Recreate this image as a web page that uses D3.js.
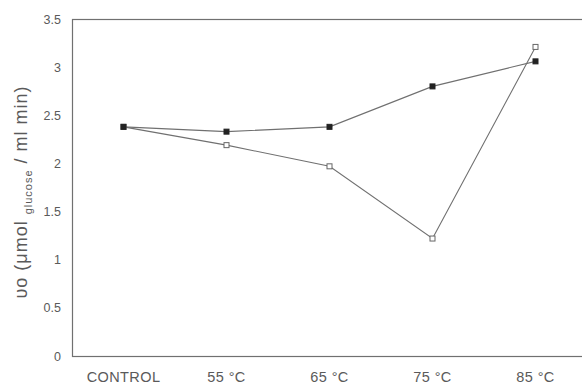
<!DOCTYPE html>
<html>
<head>
<meta charset="utf-8">
<script src="https://cdn.jsdelivr.net/npm/d3@7"></script>
<style>
  html, body { margin: 0; padding: 0; background: #fff; }
  svg { display: block; font-family: "Liberation Sans", Arial, sans-serif; }
</style>
</head>
<body>
<svg id="chart" width="582" height="389"></svg>
<script>
// Treatment groups along the x axis
const categories = ["CONTROL", "55 °C", "65 °C", "75 °C", "85 °C"];
// Initial rate for the two series (filled and open squares)
const filledSeries = [2.38, 2.33, 2.38, 2.80, 3.06];
const openSeries   = [2.38, 2.19, 1.97, 1.22, 3.21];
// Y axis ticks
const yTicks = [0, 0.5, 1, 1.5, 2, 2.5, 3, 3.5];

const svg = d3.select("#chart");
const plot = { left: 72, top: 19, bottom: 356, right: 587 };

const x = d3.scaleBand().domain(categories).range([plot.left, plot.right]);
const y = d3.scaleLinear().domain([0, 3.5]).range([plot.bottom, plot.top]);
const cx = d => x(d) + x.bandwidth() / 2;

const ink = "#707070";
const textInk = "#5a5a5a";

// Plot frame
svg.append("rect")
  .attr("x", plot.left + 0.5).attr("y", plot.top + 0.5)
  .attr("width", plot.right - plot.left).attr("height", plot.bottom - plot.top)
  .attr("fill", "none").attr("stroke", ink).attr("stroke-width", 1.2);

// Y axis labels (no tick marks)
const yAxis = d3.axisLeft(y).tickValues(yTicks).tickSize(0).tickPadding(11)
  .tickFormat(d3.format("~g"));
svg.append("g").attr("transform", `translate(${plot.left},0)`).call(yAxis)
  .call(g => g.select(".domain").remove())
  .selectAll("text").attr("fill", textInk).attr("font-size", 12.5)
  .attr("font-family", "Liberation Sans, Arial, sans-serif");

// X axis labels
const xAxis = d3.axisBottom(x).tickSize(0).tickPadding(16);
svg.append("g").attr("transform", `translate(0,${plot.bottom})`).call(xAxis)
  .call(g => g.select(".domain").remove())
  .selectAll("text").attr("fill", textInk).attr("font-size", 14.5)
  .attr("letter-spacing", 0.4)
  .attr("font-family", "Liberation Sans, Arial, sans-serif");

// Y axis title with subscript
const title = svg.append("text")
  .attr("transform", `translate(27,192) rotate(-90)`)
  .attr("text-anchor", "middle")
  .attr("fill", textInk).attr("font-size", 18).attr("letter-spacing", 1);
title.append("tspan").text("υo (μmol ");
title.append("tspan").attr("font-size", 11).attr("dy", 5).text("glucose");
title.append("tspan").attr("dy", -5).text(" / ml min)");

const line = d3.line().x((d, i) => cx(categories[i])).y(d => y(d));

function drawSeries(values, filled) {
  svg.append("path").datum(values)
    .attr("d", line).attr("fill", "none")
    .attr("stroke", ink).attr("stroke-width", 1.1);
  const s = 5;
  svg.append("g").selectAll("rect").data(values).join("rect")
    .attr("x", (d, i) => cx(categories[i]) - s / 2)
    .attr("y", d => y(d) - s / 2)
    .attr("width", s).attr("height", s)
    .attr("fill", filled ? "#222" : "#fff")
    .attr("stroke", filled ? "#222" : "#666")
    .attr("stroke-width", 1);
}

drawSeries(openSeries, false);
drawSeries(filledSeries, true);
</script>
</body>
</html>
